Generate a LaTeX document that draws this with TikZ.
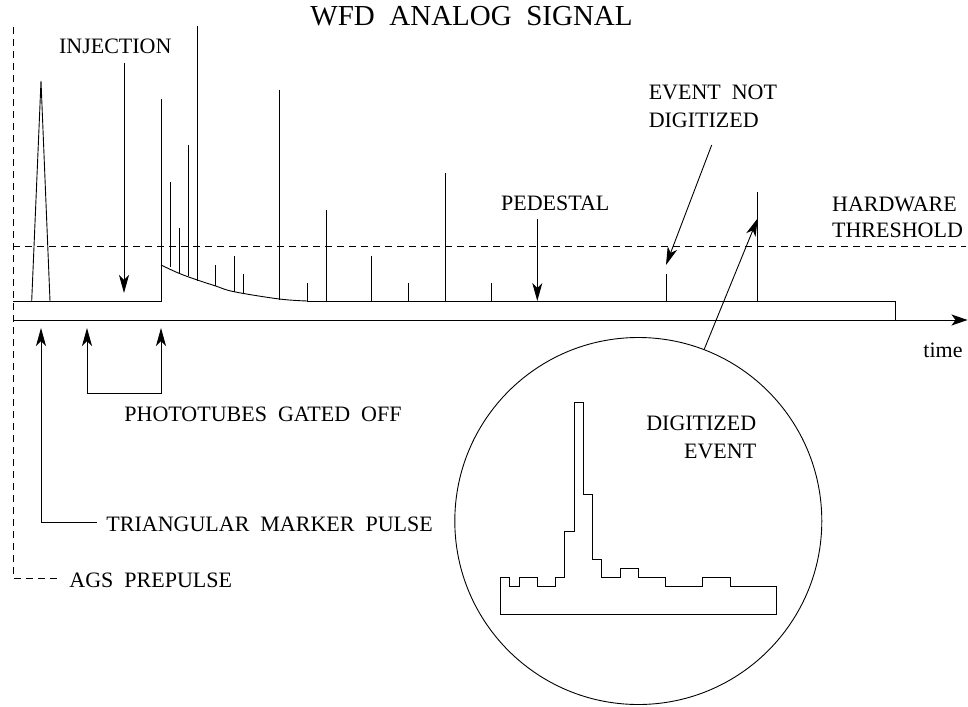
\documentclass[tikz,border=0pt]{standalone}
\usepackage{fontspec}
\setmainfont{Liberation Serif}
\usetikzlibrary{arrows.meta}
\newcommand\wsp{\hspace{0.5em}}
\begin{document}
\begin{tikzpicture}[x=1pt,y=-1pt,line width=0.9pt,
  lbl/.style={inner sep=0pt,font=\fontsize{22}{27}\selectfont},
  ttl/.style={inner sep=0pt,font=\fontsize{29}{34}\selectfont},
  ptr/.style={-{Stealth[length=18pt,width=10pt,inset=5pt]}},
  bothptr/.style={{Stealth[length=18pt,width=10pt,inset=5pt]}-{Stealth[length=18pt,width=10pt,inset=5pt]}},
  axisline/.style={-{Stealth[length=16pt,width=11pt,inset=4pt]}},
  thr/.style={dash pattern=on 7pt off 5pt},
  lens/.style={circle,draw,inner sep=0pt,minimum size=367pt}]
\useasboundingbox (0,0) rectangle (968,706);

% title
\node[ttl,anchor=base west] (title) at (310,26) {WFD\wsp ANALOG\wsp SIGNAL};

% AGS prepulse marker and hardware threshold
\draw[thr] (13,27) -- (13,578) -- (60,578);
\draw[thr] (13,246) -- (966,246);

% triangular marker pulse
\draw[line join=bevel] (31.7,301) -- (41,81) -- (50,301);

% pedestal before injection, injection spike
\draw (13,301) -- (161,301) -- (161,99);
% recovering pedestal after gate
\draw plot[smooth,tension=0.6] coordinates {(161,265) (179,273.3) (197.3,280) (215.7,286) (234,291.7) (279.3,299) (307.3,301)};
\draw (307.3,301) -- (895.7,301) -- (895.7,320);

% time axis
\coordinate (t0) at (13,320);
\coordinate (t1) at (967.5,320);
\draw[axisline] (t0) -- (t1);
\node[lbl,anchor=base west] (time) at (923,357) {time};

% pulses on the analog signal
\foreach \x/\t/\b in {170/182/267, 179/228/273, 188/145/276, 197.3/26/281,
  215.7/265/286, 234/256/291.7, 243.3/274/293.3, 279.3/90/300,
  307.3/283/301, 326/210/301, 371.7/255.7/301, 408.7/282.7/301,
  445.3/173.3/301, 491.7/282.7/301, 666/274.3/301, 757.7/191.7/301}
  \draw (\x,\t) -- (\x,\b);

% labels above the signal
\node[lbl,anchor=base] (inj) at (115.3,53.3) {INJECTION};
\coordinate (injtail) at (124,63);
\coordinate (injtip) at (124,293);
\draw[ptr] (injtail) -- (injtip);

\node[lbl,anchor=base west] (ped) at (500.7,210.7) {PEDESTAL};
\coordinate (pedtail) at (537.3,219);
\coordinate (pedtip) at (537.3,301);
\draw[ptr] (pedtail) -- (pedtip);

\node[lbl,anchor=base west] (nd1) at (648.3,100) {EVENT\wsp NOT};
\node[lbl,anchor=base west] (nd2) at (648.3,127.7) {DIGITIZED};
\coordinate (ndtail) at (711.7,145);
\coordinate (ndtip) at (666,265);
\draw[ptr] (ndtail) -- (ndtip);

\node[lbl,anchor=base west] (hw1) at (831.7,211.7) {HARDWARE};
\node[lbl,anchor=base west] (hw2) at (831.7,237.7) {THRESHOLD};

% labels below the axis
\coordinate (gateA) at (87,328);
\coordinate (gateB) at (161,328);
\draw[bothptr] (gateA) -- (87,393) -- (161,393) -- (gateB);
\node[lbl,anchor=base west] (gate) at (124,421.7) {PHOTOTUBES\wsp GATED\wsp OFF};

\coordinate (tritip) at (41,328);
\coordinate (trielbow) at (41,522);
\draw[ptr] (97,522) -- (trielbow) -- (tritip);
\node[lbl,anchor=base west] (tri) at (106,531.7) {TRIANGULAR\wsp MARKER\wsp PULSE};

\node[lbl,anchor=base west] (ags) at (69,587.7) {AGS\wsp PREPULSE};

% magnified view of the digitized event
\node[lens] (zoomc) at (638.3,521) {};
\coordinate (digtip) at (757.7,218.3);
\draw[ptr] (zoomc.69.6) -- (digtip);

\draw (500.7,614) -- (500.7,577.3) -- (509.9,577.3) -- (509.9,586) -- (519.1,586)
  -- (519.1,577.3) -- (537.4,577.3) -- (537.4,586) -- (555.8,586) -- (555.8,577.3)
  -- (564.9,577.3) -- (564.9,531.7) -- (574.1,531.7) -- (574.1,402.7) -- (583.3,402.7)
  -- (583.3,494.7) -- (592.5,494.7) -- (592.5,559) -- (601.6,559) -- (601.6,577.3)
  -- (620,577.3) -- (620,568) -- (638.4,568) -- (638.4,577.3) -- (665.9,577.3)
  -- (665.9,586) -- (702.6,586) -- (702.6,577.3) -- (730.1,577.3) -- (730.1,586)
  -- (776,586) -- (776,614) -- cycle;

\node[lbl,anchor=base east] (de1) at (756.7,430.7) {DIGITIZED};
\node[lbl,anchor=base east] (de2) at (756.7,458.3) {EVENT};
\end{tikzpicture}
\end{document}
